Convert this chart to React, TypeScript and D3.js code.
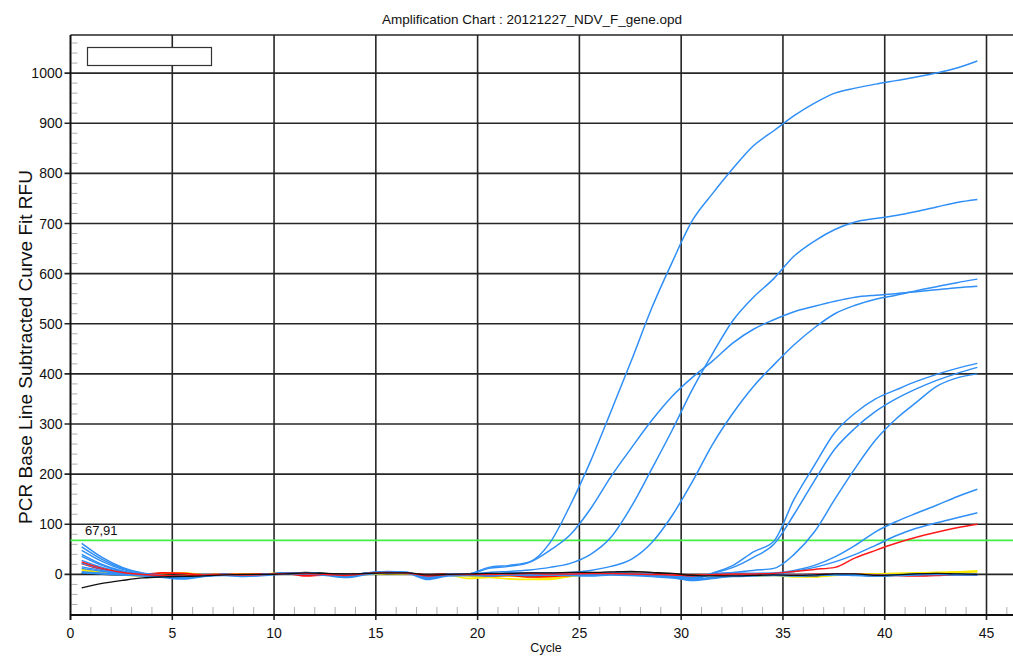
import React from 'react';
import * as d3 from 'd3';

const title = 'Amplification Chart : 20121227_NDV_F_gene.opd';
const xLabel = 'Cycle';
const yLabel = 'PCR Base Line Subtracted Curve Fit RFU';
const xTicks = [0, 5, 10, 15, 20, 25, 30, 35, 40, 45];
const yTicks = [0, 100, 200, 300, 400, 500, 600, 700, 800, 900, 1000];
const threshold = 67.91;
const thresholdLabel = '67,91';

// cycle numbers 1..45
const cycles = [1, 2, 3, 4, 5, 6, 7, 8, 9, 10, 11, 12, 13, 14, 15, 16, 17, 18, 19, 20,
  21, 22, 23, 24, 25, 26, 27, 28, 29, 30, 31, 32, 33, 34, 35, 36, 37, 38, 39, 40,
  41, 42, 43, 44, 45];

// blue wells (amplifying)
const wellA = [55, 30, 12, 2, -3, -6, -2, 0, -2, 0, 3, 3, 0, -3, 2, 5, 4, -6, 0, 1,
  14, 18, 25, 63, 138, 226, 325, 426, 531, 622, 706, 760, 810, 855, 885, 915, 940, 960, 970, 978,
  985, 992, 1000, 1010, 1024];
const wellD = [48, 26, 10, 1, -3, -5, -2, 0, -1, 0, 2, 3, 1, -2, 3, 5, 3, -5, 0, 1,
  12, 16, 24, 48, 79, 131, 195, 252, 307, 355, 393, 426, 462, 489, 508, 524, 535, 545, 553, 557,
  560, 564, 568, 572, 575];
const wellB = [40, 20, 7, 0, -4, -7, -3, 0, -2, 0, 3, 2, 0, -4, 2, 5, 4, -7, -1, 0,
  4, 6, 9, 14, 22, 40, 74, 135, 210, 287, 369, 441, 507, 553, 590, 635, 665, 688, 703, 710,
  716, 724, 733, 742, 748];
const wellC = [62, 34, 14, 3, -2, -8, -3, -1, -3, 0, 2, 3, 0, -3, 3, 6, 4, -8, -1, 0,
  0, 2, 3, 3, 4, 8, 16, 30, 63, 117, 185, 260, 322, 375, 418, 458, 492, 520, 537, 549,
  557, 566, 574, 582, 589];
const wellE = [36, 18, 6, 0, -3, -5, -2, 0, -2, 0, 2, 3, 0, -3, 2, 4, 3, -5, 0, 0,
  -1, 2, 3, 2, 2, 3, 2, 1, -1, -3, -10, 3, 18, 45, 66, 150, 218, 283, 322, 350,
  368, 385, 399, 411, 421];
const wellF = [28, 14, 5, 0, -3, -6, -2, 0, -1, 0, 3, 3, 0, -3, 2, 5, 3, -6, 0, 1,
  0, 3, 2, 3, 2, 2, 3, 2, 0, -4, -8, 2, 14, 34, 60, 120, 187, 250, 292, 325,
  350, 370, 387, 401, 413];
const wellG = [22, 11, 3, -1, -3, -5, -2, 0, -2, 0, 2, 3, 0, -3, 3, 5, 4, -6, 0, 0,
  0, 2, 3, 2, 2, 3, 3, 1, 0, -3, -8, 0, 4, 8, 12, 40, 85, 150, 212, 268,
  310, 343, 375, 392, 400];
const wellH = [15, 8, 2, -1, -3, -4, -2, 0, -1, 0, 3, 3, 0, -2, 2, 4, 3, -4, 0, 1,
  0, 2, 3, 2, 2, 3, 2, 1, 0, -2, -5, 1, 3, 2, 3, 8, 18, 35, 58, 85,
  105, 122, 138, 155, 170];
const wellI = [12, 6, 1, -1, -3, -4, -2, 0, -1, 0, 2, 3, 0, -2, 2, 4, 3, -4, 0, 0,
  0, 2, 2, 2, 1, 2, 2, 1, 0, -2, -6, 1, 2, 2, 2, 6, 14, 25, 40, 58,
  77, 92, 103, 113, 123];
const wellBlueFlat1 = [5, 2, 0, -2, -4, -7, -3, -1, -3, -1, 2, 2, 0, -4, 1, 4, 3, -8, -1, 0,
  -1, 1, 0, 1, 0, -1, 1, 0, -2, -5, -12, -8, -3, -2, -1, -2, -1, 0, -1, -2,
  -1, 0, 1, 0, 0];
const wellBlueFlat2 = [3, 1, -1, -3, -6, -9, -4, -2, -4, -2, 1, 1, -2, -6, 0, 3, 2, -10, -3, -2,
  -3, -1, -2, -1, -2, -3, -1, -2, -4, -7, -10, -6, -4, -3, -2, -3, -2, -1, -2, -3,
  -2, -1, 0, -1, -1];

// red wells
const wellRedAmp = [25, 12, 4, 0, -2, -3, -1, 0, -1, 0, 2, 2, 0, -2, 2, 4, 3, -3, 0, 0,
  0, 1, 2, 1, 1, 2, 2, 1, 0, -1, -3, 0, 1, 1, 2, 6, 10, 14, 33, 48,
  62, 74, 84, 93, 100];
const wellRedFlat = [22, 10, 3, 0, 3, 2, -1, 0, 0, 1, 2, -3, -1, -1, 2, 4, 2, -1, 0, 0,
  -3, -2, -5, -4, -2, 0, 2, 1, 0, -1, -2, -1, -2, 0, -1, -1, 0, 1, 0, -1,
  -2, -3, -2, -1, -1];

// yellow wells
const wellYellow1 = [10, 4, 0, -2, 3, 2, -1, 0, 1, 1, 3, 2, 0, -1, 1, 2, 2, -2, -1, -8,
  -6, -9, -10, -10, -4, 0, 1, 2, 0, -1, -3, -2, -2, -3, -2, -5, -5, -2, -1, 0,
  1, 3, 4, 5, 7];
const wellYellow2 = [8, 3, -1, -3, 2, 3, -1, 0, 0, 1, 2, 3, 1, -1, 0, 2, 1, -2, 0, -3,
  -4, -3, -6, -7, -3, 1, 2, 1, 0, 0, -2, -1, -3, -1, -1, -3, -4, -1, 0, 1,
  2, 2, 3, 4, 5];

// black wells
const wellBlack1 = [-27, -18, -12, -7, -5, -4, -3, -1, 0, 0, 1, 3, 2, 1, 2, 3, 3, -1, 0, 1,
  2, 2, 3, 3, 4, 4, 5, 6, 4, 2, -2, -3, -3, -2, -1, -2, -1, 1, 1, -2,
  -1, 1, 2, 1, 0];
const wellBlack2 = [2, 0, -1, -2, -3, -4, -2, 0, -1, 0, 2, 4, 2, 0, 2, 3, 2, 0, 1, 1,
  1, 2, 2, 3, 3, 3, 4, 3, 2, 1, -1, -2, -2, -1, 0, -2, -3, 0, -1, -3,
  -2, 1, 1, 0, -1];

const blueColor = '#2f8ff6';
const series = [
  { values: wellYellow1, color: '#ffee00', w: 1.6 },
  { values: wellYellow2, color: '#f4e400', w: 1.6 },
  { values: wellBlack2, color: '#111111', w: 1.4 },
  { values: wellRedFlat, color: '#ff1010', w: 1.6 },
  { values: wellBlueFlat2, color: blueColor, w: 1.8 },
  { values: wellBlueFlat1, color: blueColor, w: 1.8 },
  { values: wellI, color: blueColor, w: 1.5 },
  { values: wellH, color: blueColor, w: 1.5 },
  { values: wellG, color: blueColor, w: 1.5 },
  { values: wellF, color: blueColor, w: 1.5 },
  { values: wellE, color: blueColor, w: 1.5 },
  { values: wellC, color: blueColor, w: 1.5 },
  { values: wellB, color: blueColor, w: 1.5 },
  { values: wellD, color: blueColor, w: 1.5 },
  { values: wellA, color: blueColor, w: 1.5 },
  { values: wellRedAmp, color: '#ff1a1a', w: 1.5 },
  { values: wellBlack1, color: '#111111', w: 1.4 },
];

const W = 1013;
const H = 656;
const left = 70.5;
const top = 35;
const bottom = 615;
const right = 1013;

export default function App() {
  const x = d3.scaleLinear().domain([0, 45]).range([left, 986.5]);
  const y = d3.scaleLinear().domain([-81, 1076]).range([bottom, top]);
  const xPos = (c: number) => x(c - 0.45);
  const line = d3
    .line<number>()
    .x((_, i) => xPos(cycles[i]))
    .y((v) => y(v))
    .curve(d3.curveMonotoneX);

  const yMinor = d3.range(-80, 1076, 20).filter((v) => v % 100 !== 0);
  const xMinor = d3.range(1, 47).filter((v) => v % 5 !== 0);
  const font = 'Arial, "Liberation Sans", sans-serif';
  const gridColor = '#262626';

  return (
    <svg
      width={W}
      height={H}
      style={{ position: 'absolute', left: 0, top: 0, display: 'block', background: '#fff' }}
      fontFamily={font}
    >
      <defs>
        <clipPath id="plot">
          <rect x={left} y={top} width={right - left} height={bottom - top} />
        </clipPath>
      </defs>
      <rect x={0} y={0} width={W} height={H} fill="#fff" />
      <text x={532} y={24} textAnchor="middle" fontSize={13.5} fill="#111">
        {title}
      </text>

      {/* minor ticks */}
      {yMinor.map((v) => (
        <line key={'ym' + v} x1={left + 1} x2={left + 7} y1={y(v)} y2={y(v)} stroke="#b0b0b0" strokeWidth={1} />
      ))}
      {xMinor.map((v) => (
        <line key={'xm' + v} x1={x(v)} x2={x(v)} y1={bottom - 8} y2={bottom - 1} stroke="#b0b0b0" strokeWidth={1} />
      ))}

      {/* grid */}
      {yTicks.map((v) => (
        <line key={'yg' + v} x1={left - 6} x2={right} y1={y(v)} y2={y(v)} stroke={gridColor} strokeWidth={1.6} />
      ))}
      {xTicks.filter((v) => v > 0).map((v) => (
        <line key={'xg' + v} x1={x(v)} x2={x(v)} y1={top} y2={bottom + 5} stroke={gridColor} strokeWidth={1.6} />
      ))}
      <line x1={left} x2={right} y1={top} y2={top} stroke={gridColor} strokeWidth={1.6} />

      {/* axes */}
      <line x1={left} x2={left} y1={top} y2={bottom + 5} stroke="#111" strokeWidth={2} />
      <line x1={left} x2={right} y1={bottom} y2={bottom} stroke="#111" strokeWidth={2} />

      {/* tick labels */}
      {yTicks.map((v) => (
        <text key={'yl' + v} x={left - 8} y={y(v)} dy="0.36em" textAnchor="end" fontSize={14} fill="#111">
          {v}
        </text>
      ))}
      {xTicks.map((v) => (
        <text key={'xl' + v} x={x(v)} y={638} textAnchor="middle" fontSize={14} fill="#111">
          {v}
        </text>
      ))}

      <text x={546} y={652} textAnchor="middle" fontSize={12.5} fill="#111">
        {xLabel}
      </text>
      <text
        transform={`translate(32, 347) rotate(-90)`}
        textAnchor="middle"
        fontSize={19}
        fill="#111"
      >
        {yLabel}
      </text>

      {/* legend box */}
      <rect x={87.5} y={47.5} width={124} height={18} fill="#fff" stroke="#333" strokeWidth={1.2} />

      {/* threshold */}
      <line x1={left} x2={right} y1={y(threshold)} y2={y(threshold)} stroke="#44ee44" strokeWidth={1.6} />
      <text x={85} y={y(threshold) - 5} fontSize={13} fill="#111">
        {thresholdLabel}
      </text>

      <g clipPath="url(#plot)">
        {series.map((s, i) => (
          <path key={'s' + i} d={line(s.values) || ''} fill="none" stroke={s.color} strokeWidth={s.w} />
        ))}
      </g>
    </svg>
  );
}
